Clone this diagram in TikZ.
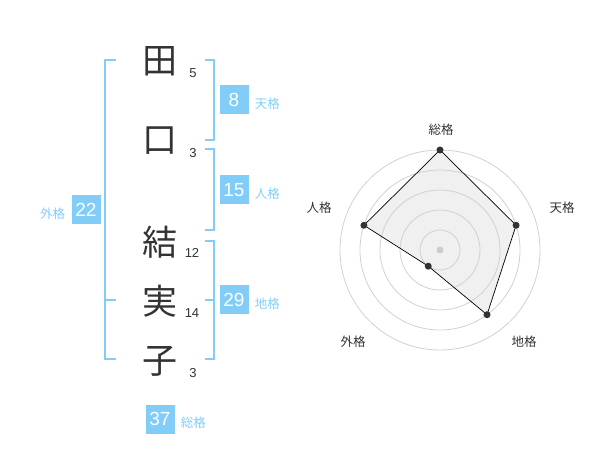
\documentclass[tikz,border=0pt]{standalone}
\usepackage{fontspec}
\setmainfont{Liberation Sans}
\newfontfamily\jpfont{Noto Sans CJK JP}
\usepackage{tikz}
\usetikzlibrary{positioning}
\definecolor{kakublue}{HTML}{82CDF8}
\definecolor{inkgray}{HTML}{333333}

\begin{document}
\begin{tikzpicture}[
  x=1pt, y=-1pt,
  kanji/.style={font=\jpfont\fontsize{35}{35}\selectfont, text=inkgray, inner sep=0pt},
  strokes/.style={font=\fontsize{13}{13}\selectfont, text=inkgray, inner sep=0pt},
  kbox/.style={fill=kakublue, text=white, minimum size=29pt, inner sep=0pt, font=\fontsize{19}{19}\selectfont},
  klabel/.style={font=\jpfont\fontsize{12.5}{12.5}\selectfont, text=kakublue, inner sep=0pt},
  bracket/.style={draw=kakublue, line width=2pt},
  axislabel/.style={font=\jpfont\fontsize{12.5}{12.5}\selectfont, text=inkgray, inner sep=0pt},
  ring/.style={draw=black!18, line width=0.8pt},
  web/.style={draw=black, line width=0.7pt},
  dot/.style={circle, fill=inkgray, inner sep=0pt, minimum size=7pt},
  hubdot/.style={circle, fill=black!20, inner sep=0pt, minimum size=7pt}
]
  \useasboundingbox (0,0) rectangle (600,470);

  % name column
  \node[kanji] (ta) at (160,61) {田};
  \node[kanji] (kuchi) at (160,141) {口};
  \node[kanji] (yui) at (160,242) {結};
  \node[kanji] (mi) at (160,301) {実};
  \node[kanji] (ko) at (160,361) {子};

  \node[strokes] (sta) at (193,73) {5};
  \node[strokes] (skuchi) at (193,153) {3};
  \node[strokes] (syui) at (192,253) {12};
  \node[strokes] (smi) at (192,313) {14};
  \node[strokes] (sko) at (193,373) {3};

  % brackets
  \draw[bracket] (116,60) -- (105,60) -- (105,359) -- (116,359);
  \draw[bracket] (105,300) -- (116,300);
  \draw[bracket] (205,60) -- (214,60) -- (214,140) -- (205,140);
  \draw[bracket] (205,149) -- (214,149) -- (214,230) -- (205,230);
  \draw[bracket] (205,241) -- (214,241) -- (214,359) -- (205,359);
  \draw[bracket] (205,300) -- (214,300);

  % totals
  \node[kbox] (ten) at (234,100) {8};
  \node[klabel, right=6pt of ten, yshift=-4pt] (tenlbl) {天格};
  \node[kbox] (jin) at (234,190) {15};
  \node[klabel, right=6pt of jin, yshift=-4pt] (jinlbl) {人格};
  \node[kbox] (chi) at (234,300) {29};
  \node[klabel, right=6pt of chi, yshift=-4pt] (chilbl) {地格};
  \node[kbox] (gai) at (86,210) {22};
  \node[klabel, left=6pt of gai, yshift=-4pt] (gailbl) {外格};
  \node[kbox] (sou) at (160,419) {37};
  \node[klabel, right=6pt of sou, yshift=-4pt] (soulbl) {総格};

  % radar chart
  \begin{scope}[shift={(440,250)}, yscale=-1]
    \coordinate (vsou) at (90:100);
    \coordinate (vten) at (18:80);
    \coordinate (vchi) at (-54:80);
    \coordinate (vgai) at (-126:20);
    \coordinate (vjin) at (162:80);
    \fill[black!6] (vsou) -- (vten) -- (vchi) -- (vgai) -- (vjin) -- cycle;
    \foreach \r in {20,40,60,80,100}
      \draw[ring] (0,0) circle[radius=\r pt];
    \node[hubdot] (hub) at (0,0) {};
    \draw[web] (vsou) -- (vten) -- (vchi) -- (vgai) -- (vjin) -- cycle;
    \node[dot] (psou) at (vsou) {};
    \node[dot] (pten) at (vten) {};
    \node[dot] (pchi) at (vchi) {};
    \node[dot] (pgai) at (vgai) {};
    \node[dot] (pjin) at (vjin) {};

    \node[axislabel] (asou) at (1,120) {総格};
    \node[axislabel] (aten) at (122,42) {天格};
    \node[axislabel] (achi) at (84,-92) {地格};
    \node[axislabel] (agai) at (-87,-92) {外格};
    \node[axislabel] (ajin) at (-121,42) {人格};
  \end{scope}
\end{tikzpicture}
\end{document}
